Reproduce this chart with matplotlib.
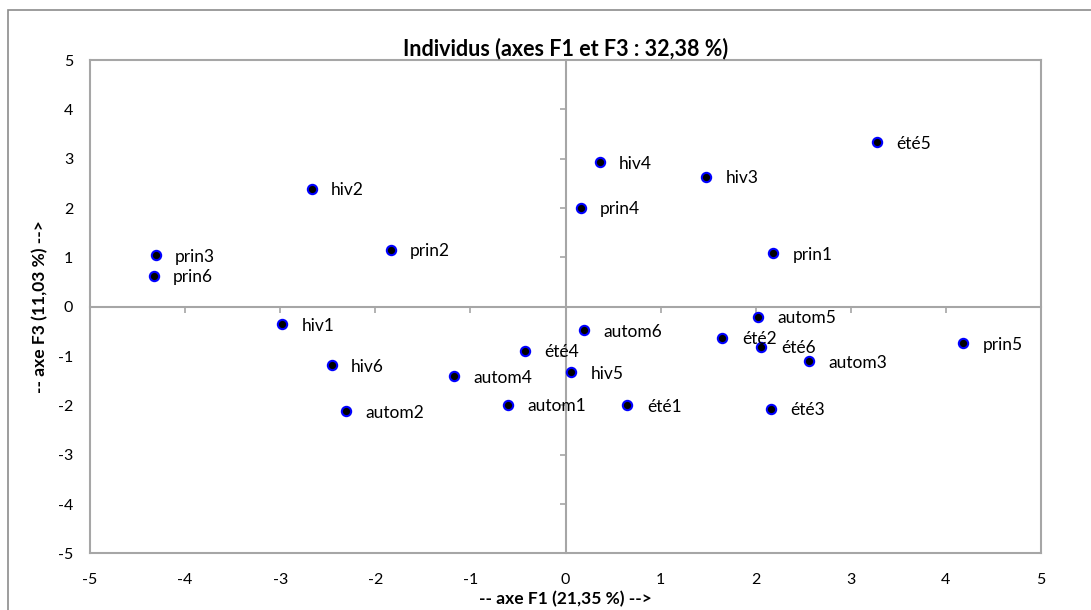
#################################
# ACP - individus sur les axes F1 et F3
#################################
import numpy as np
import matplotlib.pyplot as plt
from matplotlib.patches import Rectangle

plt.rcParams['font.family'] = ['Lato', 'DejaVu Sans']
plt.rcParams['axes.unicode_minus'] = False

# coordonnees des individus
labels = ['prin1', 'prin2', 'prin3', 'prin4', 'prin5', 'prin6',
          'été1', 'été2', 'été3', 'été4', 'été5', 'été6',
          'autom1', 'autom2', 'autom3', 'autom4', 'autom5', 'autom6',
          'hiv1', 'hiv2', 'hiv3', 'hiv4', 'hiv5', 'hiv6']
f1 = [2.18, -1.84, -4.31, 0.16, 4.18, -4.33,
      0.65, 1.65, 2.16, -0.43, 3.27, 2.06,
      -0.61, -2.31, 2.56, -1.17, 2.02, 0.19,
      -2.98, -2.67, 1.48, 0.36, 0.06, -2.46]
f3 = [1.08, 1.15, 1.04, 2.01, -0.74, 0.63,
      -2.00, -0.63, -2.07, -0.90, 3.33, -0.81,
      -1.99, -2.12, -1.11, -1.41, -0.21, -0.48,
      -0.36, 2.39, 2.63, 2.93, -1.33, -1.19]
ticks = np.arange(-5, 6)

grey = '#a6a6a6'
fig = plt.figure(figsize=(10.91, 6.10), dpi=100)
ax = fig.add_axes([0.0825, 0.0929, 0.8717, 0.8087])

# cadre exterieur facon Excel
fig.patches.append(Rectangle((8/1091, -0.1), 2, 0.9836+0.1, transform=fig.transFigure,
                             fill=False, edgecolor='#8c8c8c', lw=1.2))

ax.scatter(f1, f3, s=45, c='black', edgecolors='#0000ff', linewidths=1.5, zorder=3)
for lab, x, y in zip(labels, f1, f3):
    ax.annotate(lab, (x, y), xytext=(14, -1), textcoords='offset points',
                va='center', ha='left', fontsize=12.5, color='black')

ax.set_xlim(-5, 5)
ax.set_ylim(-5, 5)
ax.set_xticks(ticks)
ax.set_yticks(ticks)
ax.tick_params(length=0, labelsize=11.5, pad=14)
ax.tick_params(axis='y', pad=12)
for sp in ax.spines.values():
    sp.set_color(grey)
    sp.set_linewidth(1.5)

# axes passant par l'origine avec graduations
sx = ax.secondary_xaxis(0.5)
sx.set_xticks(ticks)
sx.xaxis.set_ticks_position('bottom')
sx.tick_params(direction='out', length=4, width=1.2, color=grey, labelbottom=False, labeltop=False)
sy = ax.secondary_yaxis(0.5)
sy.set_yticks(ticks)
sy.yaxis.set_ticks_position('left')
sy.tick_params(direction='out', length=4, width=1.2, color=grey, labelleft=False, labelright=False)
for sec in (sx, sy):
    for sp in sec.spines.values():
        sp.set_color(grey)
        sp.set_linewidth(1.5)

ax.set_title('Individus (axes F1 et F3 : 32,38 %)', fontsize=15.5, fontweight='bold', pad=3)
ax.set_xlabel('-- axe F1 (21,35 %) -->', fontsize=12.5, fontweight='bold', labelpad=3)
ax.set_ylabel('-- axe F3 (11,03 %) -->', fontsize=12.5, fontweight='bold', labelpad=7)

fig.savefig('out.png', dpi=100, facecolor='white')
